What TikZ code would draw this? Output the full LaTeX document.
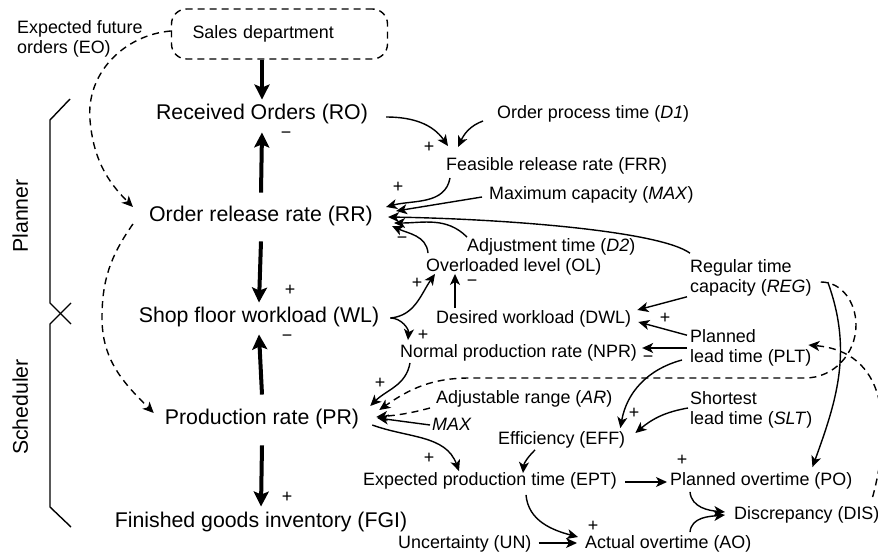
\documentclass[tikz,border=0pt]{standalone}
\usepackage{fontspec}
\setmainfont{Liberation Sans}
\usepackage{tikz}
\usetikzlibrary{arrows.meta}
\tikzstyle{big}=[font=\fontsize{21.3}{25}\selectfont, inner sep=1pt, text height=16pt, text depth=4.5pt]
\tikzstyle{var}=[font=\fontsize{17.9}{20.5}\selectfont, inner sep=1pt, text height=13.5pt, text depth=4pt, anchor=west]
\tikzstyle{var2}=[font=\fontsize{17.9}{20.5}\selectfont, inner sep=1pt, align=left, anchor=west]
\tikzstyle{sign}=[font=\fontsize{17.9}{20.5}\selectfont, inner sep=0pt]
\tikzstyle{flow}=[line width=4pt, -{Stealth[length=15pt, width=15pt, inset=3pt]}]
\tikzstyle{link}=[line width=1.4pt, -{Stealth[length=11pt, width=10pt, inset=3pt]}]
\tikzstyle{hint}=[link, dash pattern=on 7pt off 5pt]

\begin{document}
\begin{tikzpicture}[x=1pt, y=-1pt]
        \useasboundingbox (0,0) rectangle (878,556);

        \node[var, anchor=center, draw, dash pattern=on 7pt off 5pt, line width=1.4pt, rounded corners=15pt, minimum width=216pt, minimum height=50pt, text width=174pt] (sales) at (279.5,34) {Sales department};
        \node[var2] (EO) at (16,39) {Expected future\\orders (EO)};

        \node[big] (RO) at (262,114) {Received Orders (RO)};
        \node[big] (RR) at (261,216) {Order release rate (RR)};
        \node[big] (WL) at (259,317) {Shop floor workload (WL)};
        \node[big] (PR) at (262,419) {Production rate (PR)};
        \node[big] (FGI) at (261,522) {Finished goods inventory (FGI)};

        \node[big, rotate=90] (planner) at (22,216) {Planner};
        \node[big, rotate=90] (scheduler) at (22,407) {Scheduler};

        \node[var] (D1) at (496,114) {Order process time (\textit{D1})};
        \node[var] (FRR) at (445,166) {Feasible release rate (FRR)};
        \node[var] (MAXC) at (488,195) {Maximum capacity (\textit{MAX})};
        \node[var] (D2) at (466,247) {Adjustment time (\textit{D2})};
        \node[var] (OL) at (425,267) {Overloaded level (OL)};
        \node[var2] (REG) at (689,278) {Regular time\\capacity (\textit{REG})};
        \node[var] (DWL) at (435,319) {Desired workload (DWL)};
        \node[var2] (PLT) at (689,348) {Planned\\lead time (PLT)};
        \node[var] (NPR) at (399,353) {Normal production rate (NPR)};
        \node[var] (AR) at (435,399) {Adjustable range (\textit{AR})};
        \node[var] (MAXP) at (431,426) {\textit{MAX}};
        \node[var2] (SLT) at (689,410) {Shortest\\lead time (\textit{SLT})};
        \node[var] (EFF) at (497,440) {Efficiency (EFF)};
        \node[var] (EPT) at (362,481) {Expected production time (EPT)};
        \node[var] (PO) at (669,481) {Planned overtime (PO)};
        \node[var] (DIS) at (733,515) {Discrepancy (DIS)};
        \node[var] (UN) at (397,544) {Uncertainty (UN)};
        \node[var] (AO) at (584,544) {Actual overtime (AO)};

        \node[sign] (m1) at (286,135) {−};
        \node[sign] (p1) at (290,290) {+};
        \node[sign] (m2) at (287,338) {−};
        \node[sign] (p2) at (287,497) {+};
        \node[sign] (p3) at (429,147) {+};
        \node[sign] (p4) at (398,187) {+};
        \node[sign] (m3) at (402,240) {−};
        \node[sign] (p5) at (417,283) {+};
        \node[sign] (m4) at (472,283) {−};
        \node[sign] (p6) at (423,335) {+};
        \node[sign] (p7) at (665,318) {+};
        \node[sign] (m5) at (648,359) {−};
        \node[sign] (p8) at (380,383) {+};
        \node[sign] (p9) at (429,458) {+};
        \node[sign] (p10) at (634,413) {+};
        \node[sign] (p11) at (682,460) {+};
        \node[sign] (p12) at (593,526) {+};

        \draw[line width=1.4pt] (70,99) -- (50,120) -- (50,303) -- (71,324);
        \draw[line width=1.4pt] (71,303) -- (50,324) -- (50,507) -- (71,527);

        \draw[flow] (sales.south -| RO) -- ([yshift=3pt]RO.north);
        \draw[flow] ([yshift=12pt]RR.north) -- ([yshift=-7pt]RO.south);
        \draw[flow] ([yshift=-14pt]RR.south) -- ([yshift=3pt]WL.north);
        \draw[flow] ([yshift=13pt]PR.north) -- ([yshift=-6pt]WL.south);
        \draw[flow] ([yshift=-15pt]PR.south) -- ([yshift=4pt]FGI.north);

        \draw[hint] ([yshift=3pt]sales.west) to[out=185, in=95] (90,120) to[out=-85, in=135] ([shift={(-15pt,9pt)}]RR.west);
        \draw[hint] ([shift={(-15pt,-8pt)}]RR.west) to[out=-125, in=90] (102,318) to[out=-90, in=135] ([shift={(-10pt,6pt)}]PR.west);

        \draw[link] ([shift={(17pt,-3pt)}]RO.east) to[out=0, in=125] ([shift={(3pt,10pt)}]FRR.north west);
        \draw[link] ([shift={(-13pt,-7pt)}]D1.west) to[out=200, in=65] ([shift={(13pt,9pt)}]FRR.north west);
        \draw[link] ([shift={(5pt,-2pt)}]FRR.south west) to[out=-100, in=15] ([shift={(12pt,9pt)}]RR.east);
        \draw[link] ([shift={(-6pt,-2pt)}]MAXC.west) -- ([shift={(22pt,5pt)}]RR.east);
        \draw[link] ([shift={(1pt,5pt)}]REG.north west) .. controls +(-30pt,22pt) and +(120pt,-2pt) .. ([shift={(14pt,-1pt)}]RR.east);
        \draw[link] ([xshift=1pt]D2.north west) to[out=135, in=0] ([shift={(20pt,-7pt)}]RR.east);
        \draw[link] ([shift={(3pt,4pt)}]OL.north west) to[out=95, in=-25] ([shift={(18pt,-10pt)}]RR.east);

        \draw[link] ([shift={(10pt,-1pt)}]WL.east) to[out=5, in=235] ([shift={(10pt,3pt)}]OL.south west);
        \draw[link] ([shift={(20pt,1pt)}]DWL.north west) -- ([shift={(30pt,3pt)}]OL.south west);
        \draw[link] ([shift={(10pt,-1pt)}]WL.east) to[out=0, in=85] ([shift={(9pt,3pt)}]NPR.north west);
        \draw[link] ([shift={(-2pt,1pt)}]REG.south west) -- ([shift={(5pt,9pt)}]DWL.east);
        \draw[link] ([shift={(-2pt,-7pt)}]PLT.north west) -- ([shift={(6pt,-3pt)}]DWL.east);
        \draw[link] ([xshift=-2pt]PLT.west) -- ([shift={(4pt,5pt)}]NPR.east);

        \draw[link] ([xshift=11pt]NPR.south west) to[out=-100, in=45] ([shift={(10pt,13pt)}]PR.east);
        \draw[hint] ([shift={(-5pt,-9pt)}]AR.west) to[out=195, in=5] ([shift={(16pt,2pt)}]PR.east);
        \draw[link] ([shift={(-1pt,1pt)}]MAXP.west) -- ([shift={(17pt,1pt)}]PR.east);
        \draw[hint] ([shift={(8pt,-4pt)}]REG.east) to[out=0, in=90] (856,325) to[out=-90, in=0] (805,378) -- (470,378) to[out=180, in=35] ([shift={(19pt,9pt)}]PR.east);

        \draw[link] ([shift={(12pt,-6pt)}]PR.east) to[out=-20, in=110] ([xshift=97pt]EPT.north west);
        \draw[link] ([shift={(-7pt,-12pt)}]PLT.west) to[out=195, in=80] ([shift={(-6pt,2pt)}]EFF.north east);
        \draw[link] ([shift={(-1pt,2pt)}]SLT.west) to[out=190, in=40] ([shift={(9pt,7pt)}]EFF.east);
        \draw[link] ([xshift=38pt]EFF.south west) to[out=225, in=85] ([shift={(161pt,-2pt)}]EPT.north west);
        \draw[link] ([shift={(7pt,-1pt)}]EPT.east) -- ([shift={(-2pt,-1pt)}]PO.west);
        \draw[link] ([shift={(15pt,-4pt)}]REG.east) to[out=-70, in=70] ([shift={(-41pt,4pt)}]PO.north east);

        \draw[link] ([shift={(164pt,-4pt)}]EPT.south west) to[out=-85, in=165] ([shift={(-6pt,7pt)}]AO.west);
        \draw[link] ([shift={(6pt,1pt)}]UN.east) -- ([shift={(-7pt,1pt)}]AO.west);
        \draw[link] ([shift={(21pt,-1pt)}]PO.south west) to[out=-85, in=175] ([shift={(-8pt,3pt)}]DIS.west);
        \draw[link] ([shift={(106pt,2pt)}]AO.north west) to[out=85, in=185] ([xshift=-8pt]DIS.west);
        \draw[hint] ([shift={(-8pt,8pt)}]DIS.north east) to[out=75, in=-5, looseness=1.2] ([shift={(-4pt,3pt)}]PLT.east);
\end{tikzpicture}
\end{document}
